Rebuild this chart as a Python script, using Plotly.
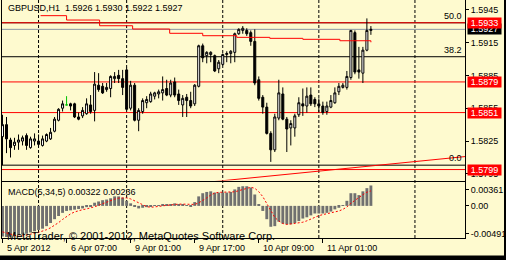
import plotly.graph_objects as go

BG = "#FEFACF"
FONT = "Liberation Sans"

# ---------------- data (GBPUSD H1, bar 0 = 5 Apr 2012 15:00) ----------------
opens = [1.5829, 1.5840, 1.5826, 1.5821, 1.5824, 1.5825, 1.5830, 1.5819, 1.5825, 1.5825,
         1.5821, 1.5825, 1.5827, 1.5834, 1.5844, 1.5855, 1.5858, 1.5859, 1.5859, 1.5847,
         1.5848, 1.5850, 1.5858, 1.5853, 1.5876, 1.5875, 1.5872, 1.5873, 1.5882, 1.5885,
         1.5882, 1.5890, 1.5855, 1.5876, 1.5844, 1.5852, 1.5860, 1.5861, 1.5866, 1.5868,
         1.5869, 1.5873, 1.5867, 1.5879, 1.5868, 1.5858, 1.5865, 1.5862, 1.5859, 1.5875,
         1.5912, 1.5903, 1.5904, 1.5903, 1.5891, 1.5895, 1.5904, 1.5905, 1.5906, 1.5923,
         1.5926, 1.5926, 1.5924, 1.5916, 1.5881, 1.5865, 1.5856, 1.5832, 1.5817, 1.5846,
         1.5868, 1.5845, 1.5837, 1.5837, 1.5849, 1.5859, 1.5857, 1.5867, 1.5863, 1.5859,
         1.5857, 1.5852, 1.5856, 1.5860, 1.5870, 1.5874, 1.5874, 1.5883, 1.5924, 1.5890,
         1.5887, 1.5908, 1.5926]
highs = [1.5849, 1.5847, 1.5828, 1.5828, 1.5831, 1.5830, 1.5832, 1.5829, 1.5832, 1.5831,
         1.5830, 1.5832, 1.5837, 1.5847, 1.5855, 1.5862, 1.5866, 1.5860, 1.5860, 1.5851,
         1.5856, 1.5864, 1.5867, 1.5888, 1.5887, 1.5878, 1.5878, 1.5885, 1.5888, 1.5890,
         1.5890, 1.5892, 1.5880, 1.5878, 1.5855, 1.5864, 1.5866, 1.5870, 1.5870, 1.5872,
         1.5884, 1.5881, 1.5881, 1.5883, 1.5872, 1.5867, 1.5868, 1.5870, 1.5877, 1.5913,
         1.5914, 1.5907, 1.5907, 1.5904, 1.5899, 1.5905, 1.5907, 1.5908, 1.5924, 1.5928,
         1.5930, 1.5928, 1.5926, 1.5927, 1.5884, 1.5867, 1.5860, 1.5834, 1.5850, 1.5881,
         1.5874, 1.5847, 1.5844, 1.5850, 1.5865, 1.5873, 1.5874, 1.5874, 1.5865, 1.5864,
         1.5861, 1.5861, 1.5867, 1.5874, 1.5878, 1.5878, 1.5889, 1.5926, 1.5926, 1.5911,
         1.5911, 1.5937, 1.5930]
lows = [1.5803, 1.5814, 1.5810, 1.5817, 1.5817, 1.5821, 1.5817, 1.5818, 1.5821, 1.5820,
        1.5820, 1.5824, 1.5826, 1.5833, 1.5843, 1.5852, 1.5858, 1.5853, 1.5846, 1.5844,
        1.5846, 1.5849, 1.5850, 1.5843, 1.5870, 1.5868, 1.5870, 1.5865, 1.5878, 1.5878,
        1.5867, 1.5853, 1.5853, 1.5843, 1.5834, 1.5850, 1.5855, 1.5860, 1.5863, 1.5864,
        1.5862, 1.5866, 1.5865, 1.5865, 1.5858, 1.5847, 1.5847, 1.5855, 1.5857, 1.5874,
        1.5897, 1.5896, 1.5897, 1.5888, 1.5887, 1.5894, 1.5897, 1.5896, 1.5897, 1.5922,
        1.5923, 1.5921, 1.5912, 1.5876, 1.5862, 1.5850, 1.5831, 1.5806, 1.5815, 1.5844,
        1.5844, 1.5815, 1.5821, 1.5829, 1.5847, 1.5848, 1.5851, 1.5857, 1.5856, 1.5851,
        1.5849, 1.5849, 1.5855, 1.5859, 1.5867, 1.5873, 1.5872, 1.5881, 1.5886, 1.5882,
        1.5878, 1.5907, 1.5922]
closes = [1.5840, 1.5827, 1.5819, 1.5824, 1.5826, 1.5828, 1.5821, 1.5827, 1.5827, 1.5822,
          1.5827, 1.5831, 1.5833, 1.5845, 1.5854, 1.5859, 1.5858, 1.5857, 1.5847, 1.5845,
          1.5853, 1.5859, 1.5852, 1.5877, 1.5872, 1.5869, 1.5874, 1.5884, 1.5884, 1.5882,
          1.5874, 1.5854, 1.5876, 1.5844, 1.5853, 1.5862, 1.5863, 1.5868, 1.5869, 1.5870,
          1.5872, 1.5867, 1.5878, 1.5867, 1.5862, 1.5864, 1.5862, 1.5857, 1.5876, 1.5912,
          1.5901, 1.5906, 1.5906, 1.5889, 1.5897, 1.5904, 1.5905, 1.5907, 1.5923, 1.5927,
          1.5928, 1.5923, 1.5916, 1.5878, 1.5864, 1.5856, 1.5832, 1.5817, 1.5847, 1.5869,
          1.5845, 1.5836, 1.5841, 1.5848, 1.5860, 1.5857, 1.5866, 1.5859, 1.5859, 1.5857,
          1.5851, 1.5857, 1.5862, 1.5869, 1.5875, 1.5876, 1.5884, 1.5926, 1.5888, 1.5888,
          1.5908, 1.5926, 1.5927]

macd = [-0.00485, -0.00491, -0.00488, -0.00478, -0.0046, -0.0045, -0.0044, -0.0042, -0.0040, -0.0038,
        -0.0036, -0.0032, -0.0027, -0.0021, -0.0016, -0.0011, -0.0008, -0.0007, -0.0006, -0.0005,
        -0.0004, -0.0002, -0.0001, 0.0005, 0.0007, 0.0009, 0.0010, 0.0012, 0.0015, 0.0015,
        0.0013, 0.0008, 0.0004, -0.0001, -0.0004, -0.0003, -0.0002, -0.0001, 0.00005, 0.0001,
        0.0002, 0.0002, 0.0003, 0.0004, 0.0003, 0.0002, 0.0001, -0.00005, 0.0006, 0.0015,
        0.0020, 0.0022, 0.0023, 0.0021, 0.0021, 0.0021, 0.0021, 0.0022, 0.0026, 0.0030,
        0.0031, 0.0031, 0.0029, 0.0018, 0.0003, -0.0008, -0.0021, -0.0033, -0.0032, -0.0025,
        -0.0028, -0.0029, -0.0029, -0.0027, -0.0024, -0.0020, -0.0018, -0.0015, -0.0012, -0.0012,
        -0.0012, -0.0011, -0.0009, -0.00055, -0.0003, 0.0001, 0.0008, 0.0020, 0.0020, 0.0017,
        0.0023, 0.0028, 0.00322]
signal = [-0.0041, -0.0043, -0.0045, -0.0047, -0.0048, -0.00473, -0.00463, -0.0045, -0.00434, -0.00418,
          -0.0040, -0.00376, -0.00346, -0.00308, -0.00264, -0.00214, -0.00166, -0.00126, -0.00096, -0.00074,
          -0.0006, -0.00048, -0.00036, -0.00014, 0.0001, 0.00036, 0.0006, 0.00086, 0.00106, 0.00122,
          0.0013, 0.00126, 0.0011, 0.00078, 0.0004, 0.00008, -0.00012, -0.00022, -0.00019, -0.00009,
          0.00001, 0.00009, 0.00017, 0.00024, 0.00028, 0.00028, 0.00026, 0.00019, 0.00023, 0.00047,
          0.00083, 0.00125, 0.00172, 0.00202, 0.00214, 0.00216, 0.00214, 0.00212, 0.00222, 0.0024,
          0.0026, 0.0028, 0.00294, 0.00278, 0.00224, 0.00146, 0.00042, -0.00082, -0.00182, -0.00238,
          -0.00278, -0.00294, -0.00286, -0.00276, -0.00274, -0.00258, -0.00236, -0.00208, -0.00178, -0.00154,
          -0.00138, -0.00124, -0.00112, -0.00099, -0.00081, -0.00055, -0.00017, 0.00041, 0.00092, 0.00132,
          0.00176, 0.00216, 0.00236]

# time axis
time_tick_idx = [0, 16, 32, 48, 64, 80]
time_tick_text = ["5 Apr 2012", "6 Apr 07:00", "9 Apr 01:00", "9 Apr 17:00", "10 Apr 09:00", "11 Apr 01:00"]
day_grid_idx = [9, 31, 55, 79, 103]

# price axis
price_ticks = [1.5795, 1.5825, 1.5855, 1.5885, 1.5915, 1.5945]
hlines_red = [1.5933, 1.5879, 1.5851, 1.5799]
bid_price = 1.5927
fib_levels = [0.0, 38.2, 50.0]
fib_prices = [1.5803, 1.5902, 1.5933]

# MACD axis labels (MetaTrader shows window max / zero / min)
macd_tick_text = ["0.00361", "0.00", "-0.00491"]
macd_tick_pos = [0.00251, 0.0, -0.00437]

# drawn objects
arc_x = [9.5, 16, 24.25, 32.5, 41.75, 50, 58.5, 66.75, 75, 84.25, 92]
arc_y = [1.59395, 1.59355, 1.59303, 1.59273, 1.59234, 1.59212, 1.59197, 1.59188, 1.59179, 1.59166, 1.59152]
trend_x = [50, 116]
trend_y = [1.5787, 1.5811]

# ---------------- figure ----------------
n = len(opens)
xi = list(range(n))
doji = [i for i in xi if opens[i] == closes[i]]
body = [i for i in xi if i not in doji]

fig = go.Figure()

fig.add_trace(go.Candlestick(
    x=body, open=[opens[i] for i in body], high=[highs[i] for i in body],
    low=[lows[i] for i in body], close=[closes[i] for i in body],
    increasing=dict(line=dict(color="black", width=1), fillcolor="white"),
    decreasing=dict(line=dict(color="black", width=1), fillcolor="black"),
    whiskerwidth=0, xaxis="x", yaxis="y", hoverinfo="skip"))
fig.add_trace(go.Candlestick(
    x=doji, open=[opens[i] for i in doji], high=[highs[i] for i in doji],
    low=[lows[i] for i in doji], close=[closes[i] for i in doji],
    increasing=dict(line=dict(color="#00C000", width=1), fillcolor="#00C000"),
    decreasing=dict(line=dict(color="#00C000", width=1), fillcolor="#00C000"),
    whiskerwidth=0, xaxis="x", yaxis="y", hoverinfo="skip"))

fig.add_trace(go.Scatter(x=arc_x, y=arc_y, mode="lines", line=dict(color="red", width=1, shape="hv"),
                         xaxis="x", yaxis="y", hoverinfo="skip"))
fig.add_trace(go.Scatter(x=trend_x, y=trend_y, mode="lines", line=dict(color="red", width=1),
                         xaxis="x", yaxis="y", hoverinfo="skip"))

fig.add_trace(go.Bar(x=xi, y=macd, marker=dict(color="#707070", line=dict(width=0)),
                     xaxis="x2", yaxis="y2", hoverinfo="skip"))
fig.add_trace(go.Scatter(x=xi, y=signal, mode="lines", line=dict(color="red", width=1, dash="2px,2px"),
                         xaxis="x2", yaxis="y2", hoverinfo="skip"))

XR = [-0.125, 115.5]
axis_common = dict(showgrid=False, zeroline=False, showline=True, linecolor="black", linewidth=1,
                   mirror=True, automargin=False)
shapes = []
for g in day_grid_idx:
    shapes.append(dict(type="line", xref="x", yref="paper", x0=g, x1=g, y0=0, y1=1,
                       line=dict(color="black", width=1, dash="3px,2px"), layer="below"))
for lv, p in zip(fib_levels, fib_prices):
    shapes.append(dict(type="line", xref="paper", yref="y", x0=0, x1=1, y0=p, y1=p,
                       line=dict(color="black", width=1), layer="below"))
shapes.append(dict(type="line", xref="paper", yref="y", x0=0, x1=1, y0=bid_price, y1=bid_price,
                   line=dict(color="#8A96A3", width=1), layer="below"))
for p in hlines_red:
    shapes.append(dict(type="line", xref="paper", yref="y", x0=0, x1=1, y0=p, y1=p,
                       line=dict(color="red", width=1), layer="below"))
# window frame (black strips at right and bottom)
shapes.append(dict(type="rect", xref="paper", yref="paper", x0=(504 - 2) / 463, x1=(507 - 2) / 463,
                   y0=(238 - 261) / 238, y1=1.01, fillcolor="black", line=dict(width=0)))
shapes.append(dict(type="rect", xref="paper", yref="paper", x0=-0.02, x1=1.1,
                   y0=(238 - 261) / 238, y1=(238 - 255.5) / 238, fillcolor="black", line=dict(width=0)))

ann = []
f9 = dict(family=FONT, size=9, color="black")
ann.append(dict(xref="paper", yref="paper", x=(6 - 2) / 463, y=(238 - 8) / 238, xanchor="left", yanchor="middle",
                text="GBPUSD,H1\u00a0\u00a0%.4f %.4f %.4f %.4f" % (opens[-1], highs[-1], lows[-1], closes[-1]),
                showarrow=False, font=f9))
ann.append(dict(xref="paper", yref="paper", x=(6 - 2) / 463, y=(238 - 191.5) / 238, xanchor="left", yanchor="middle",
                text="MACD(5,34,5) %.5f %.5f" % (macd[-1], signal[-1]), showarrow=False, font=f9))
ann.append(dict(xref="paper", yref="paper", x=(5 - 2) / 463, y=(238 - 235.5) / 238, xanchor="left", yanchor="middle",
                text="MetaTrader, \u00a9 2001-2012, MetaQuotes Software Corp.", showarrow=False,
                font=dict(family=FONT, size=11, color="black")))
for lv, p in zip(fib_levels, fib_prices):
    ann.append(dict(xref="paper", yref="y", x=(463 - 2) / 463, y=p, xanchor="right", yanchor="bottom",
                    yshift=1, text="%.1f" % lv, showarrow=False, font=f9, borderpad=0))
for t, s in zip(time_tick_idx, time_tick_text):
    ann.append(dict(xref="x2", yref="paper", x=t, y=(238 - 247.5) / 238, xanchor="left", yanchor="middle",
                    xshift=2, text=s, showarrow=False, font=f9))
# price labels on the right scale
ann.append(dict(xref="paper", yref="y", x=1, y=bid_price, xanchor="left", yanchor="middle", xshift=2,
                text="%.4f" % bid_price, showarrow=False, bgcolor="black", width=33, height=10, borderpad=0,
                font=dict(family=FONT, size=9, color="white")))
for p in hlines_red:
    ann.append(dict(xref="paper", yref="y", x=1, y=p, xanchor="left", yanchor="middle", xshift=2,
                    text="%.4f" % p, showarrow=False, bgcolor="red", width=33, height=10, borderpad=0,
                    font=dict(family=FONT, size=9, color="white")))

fig.update_layout(
    template="none", width=506, height=260,
    margin=dict(l=2, r=41, t=0, b=22, pad=0),
    paper_bgcolor=BG, plot_bgcolor=BG, showlegend=False,
    boxgap=0.5, boxgroupgap=0, bargap=0.28,
    font=dict(family=FONT, size=9, color="black"),
    xaxis=dict(axis_common, domain=[0, 1], range=XR, anchor="y", showticklabels=False, ticks="",
               rangeslider=dict(visible=False)),
    yaxis=dict(axis_common, domain=[1 - 180.5 / 238, 1], range=[1.5789, 1.59538], side="right", anchor="x",
               tickvals=price_ticks, ticktext=["%.4f" % v for v in price_ticks], ticks="outside", ticklen=3,
               tickcolor="black", tickfont=f9),
    xaxis2=dict(axis_common, domain=[0, 1], range=XR, anchor="y2", matches="x", tickvals=time_tick_idx,
                ticks="outside", ticklen=4, tickcolor="black", showticklabels=False),
    yaxis2=dict(axis_common, domain=[0, 56 / 238], range=[-0.00507, 0.00377], side="right", anchor="x2",
                tickvals=macd_tick_pos, ticktext=macd_tick_text, ticks="outside", ticklen=3,
                tickcolor="black", tickfont=f9),
    shapes=shapes, annotations=ann,
)

fig.write_html("out.html")
